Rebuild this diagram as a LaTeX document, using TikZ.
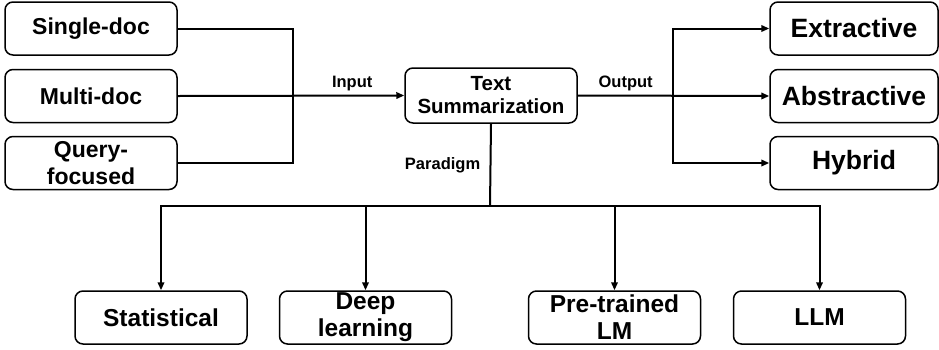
\documentclass[tikz,border=0pt]{standalone}
\usepackage{fontspec}
\setmainfont{Liberation Sans}
\usetikzlibrary{arrows.meta}
\tikzset{
  box/.style={draw,rounded corners=8pt,line width=1.5pt,minimum height=53pt,
    inner sep=0pt,align=center,font=\bfseries},
  lbox/.style={box,minimum width=172pt,font=\bfseries\fontsize{23}{27}\selectfont},
  rbox/.style={box,minimum width=168pt,font=\bfseries\fontsize{26.5}{28}\selectfont},
  bbox/.style={box,minimum width=172pt,font=\bfseries\fontsize{24.5}{27}\selectfont},
  link/.style={line width=2pt},
  arr/.style={link,-{Triangle[length=8pt,width=6.5pt]}},
  lbl/.style={font=\bfseries\fontsize{16.5}{18}\selectfont}
}
\begin{document}
\begin{tikzpicture}[x=1pt,y=-1pt]
                \useasboundingbox (0,0) rectangle (939,349);
                \node[lbox] (single) at (91,28.5) {Single-doc};
                \node[lbox] (multi) at (91,96) {Multi-doc};
                \node[lbox] (query) at (91,163) {Query-\\focused};
                \node[box,minimum width=172pt,minimum height=55pt,font=\bfseries\fontsize{20.5}{23}\selectfont] (ts) at (491,95.5) {Text\\Summarization};
                \node[rbox] (extr) at (854,28.5) {Extractive};
                \node[rbox] (abs) at (854,96) {Abstractive};
                \node[rbox] (hyb) at (854,163) {Hybrid};
                \node[bbox] (stat) at (161,317.5) {Statistical};
                \node[bbox] (deep) at (365.5,317.5) {Deep\\learning};
                \node[bbox] (pre) at (614.5,317.5) {Pre-trained\\LM};
                \node[bbox] (llm) at (819.5,317.5) {LLM};
                \coordinate (ij) at (293,96);
                \coordinate (oj) at (673,96);
                \coordinate (pj) at (490,206);
                \draw[link] (single.east) -| (ij) |- (query.east);
                \draw[arr] (multi.east) -- (ts.west) node[lbl,pos=0.77,above=0pt] {Input};
                \draw[arr] (ts.east) -- (abs.west) node[lbl,pos=0.25,above=0pt] {Output};
                \draw[arr] (oj) |- (extr.west);
                \draw[arr] (oj) |- (hyb.west);
                \draw[link] (ts.south) -- (pj) node[lbl,midway,left=6pt] {Paradigm};
                \draw[arr] (pj) -| (stat.north);
                \draw[arr] (pj) -| (deep.north);
                \draw[arr] (pj) -| (pre.north);
                \draw[arr] (pj) -| (llm.north);
            \end{tikzpicture}
\end{document}
